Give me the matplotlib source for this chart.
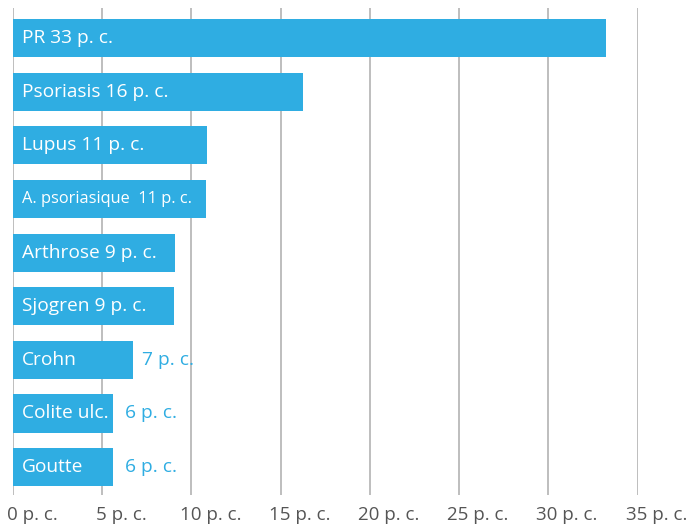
import matplotlib
matplotlib.use("Agg")
import matplotlib.pyplot as plt

categories = ["PR", "Psoriasis", "Lupus", "A. psoriasique", "Arthrose", "Sjogren", "Crohn", "Colite ulc.", "Goutte"]
values = [33.25, 16.25, 10.9, 10.8, 9.1, 9.0, 6.75, 5.6, 5.6]
inside_labels = ["PR 33 p. c.", "Psoriasis 16 p. c.", "Lupus 11 p. c.", "A. psoriasique  11 p. c.",
                 "Arthrose 9 p. c.", "Sjogren 9 p. c.", "Crohn", "Colite ulc.", "Goutte"]
outside_labels = ["", "", "", "", "", "", "7 p. c.", "6 p. c.", "6 p. c."]
xticks = [0, 5, 10, 15, 20, 25, 30, 35]
xtick_labels = [f"{t} p. c." for t in xticks]

BLUE = "#2FADE2"
FONT = ["Open Sans", "DejaVu Sans"]

fig = plt.figure(figsize=(6.91, 5.26), dpi=100)
ax = fig.add_axes([13/691, 1 - 495/526, (637.5 - 13)/691, (495 - 8)/526])

y = list(range(len(categories)))
ax.barh(y, values, height=0.71, color=BLUE, zorder=2)
ax.set_xlim(0, 35)
ax.set_ylim(8.52, -0.56)

for xv in xticks:
    ax.axvline(xv, color="#b9b9b9", lw=1.3, zorder=1)

for i, (v, lab, out) in enumerate(zip(values, inside_labels, outside_labels)):
    size = 11.8 if lab.startswith("A.") else 13.8
    ax.annotate(lab, (0, i), xytext=(6.5, 0), textcoords="offset points", va="center", ha="left",
                color="white", fontsize=size, family=FONT, zorder=3)
    if out:
        ax.annotate(out, (v, i), xytext=(6 if v > 6 else 9, 0), textcoords="offset points",
                    va="center", ha="left", color=BLUE, fontsize=13.8, family=FONT, zorder=3)

ax.set_xticks(xticks)
ax.set_xticklabels([])
ax.tick_params(axis="x", length=0)
trans = ax.get_xaxis_transform()
for t, lab in zip(xticks, xtick_labels):
    dx = 4.5 if t < 10 else 8.5
    ax.annotate(lab, (t, 0), xycoords=trans, xytext=(-dx, -8), textcoords="offset points",
                ha="left", va="top", family=FONT, fontsize=13.5, color="#555555",
                annotation_clip=False)
ax.set_yticks([])
for s in ax.spines.values():
    s.set_visible(False)

fig.savefig("out.png", dpi=100)
